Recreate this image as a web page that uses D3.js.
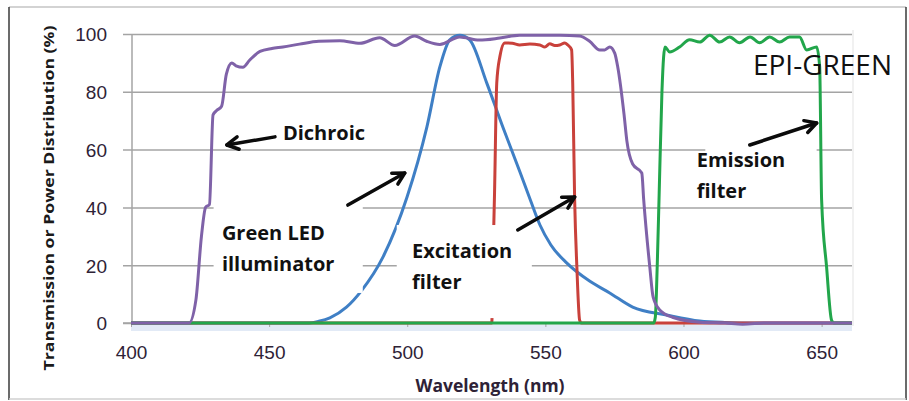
<!DOCTYPE html>
<html>
<head>
<meta charset="utf-8">
<script src="https://cdn.jsdelivr.net/npm/d3@7"></script>
<style>
  body { margin: 0; background: #fff; }
  svg { display: block; font-family: "Open Sans", sans-serif; }
</style>
</head>
<body>
<svg id="chart" width="909" height="401"></svg>
<script>
// tick labels
const wavelengthTicks = [400, 450, 500, 550, 600, 650];
const percentTicks = [0, 20, 40, 60, 80, 100];

// Green LED illuminator (blue curve)
const ledNm  = [400, 464.5, 468, 472, 478, 483.6, 491.2, 499.9, 507.1, 511.8, 515.4, 519, 522.6, 528.8, 534.6, 540.7, 544.4, 548, 552, 557.7, 566, 573.3, 581.6, 593.9, 605.9, 615, 626.5, 661];
const ledPct = [0, 0, 0.6, 1.8, 5.5, 11.4, 22.8, 43.5, 67.8, 88.6, 98, 99.6, 98, 83, 67.8, 52.5, 43, 34, 27, 20.8, 14.5, 10.4, 5.5, 2.8, 0.7, 0.2, 0, 0];

// Excitation filter (red curve)
const excNm  = [400, 530.6, 531, 531.6, 532.4, 533.5, 535.3, 538, 540.7, 544.4, 548, 549.8, 551.6, 553.4, 555.2, 557, 558.1, 559.5, 559.9, 560.6, 561.4, 562.4, 563, 661];
const excPct = [0, 0, 20, 45, 83, 92, 96.9, 96.8, 96.2, 96.5, 96.2, 95.5, 96.6, 96, 96.2, 96.9, 96.2, 94.5, 83, 42.6, 19.4, 1, 0, 0];

// Emission filter (green curve)
const emiNm  = [400, 589.2, 589.8, 590.5, 591.2, 592.2, 592.8, 593.3, 595, 598.6, 602.2, 605.9, 609.5, 613.1, 616.7, 620.3, 624.1, 627.6, 631.2, 634.8, 638.4, 642, 644.6, 648.2, 649.3, 650, 651.8, 653.6, 654.5, 661];
const emiPct = [0, 0, 2, 20, 45, 80, 92, 95.5, 93.8, 95.5, 98, 97.2, 99.6, 97.2, 99, 97, 99, 97, 99, 97.2, 99, 99, 94.5, 95.5, 88.6, 42.6, 19.4, 1, 0, 0];

// Dichroic (purple curve)
const dicNm  = [400, 421, 423.5, 425.5, 427, 428.4, 429.7, 431, 432.8, 434.5, 436.5, 438, 440.5, 443, 446.7, 451, 455, 461, 468, 475.6, 482.9, 490, 495.5, 502.7, 507, 511.8, 519, 526, 533.5, 540.7, 548, 555.2, 562.4, 566, 569.7, 571.5, 573.3, 575.1, 576.2, 578.5, 579.5, 581.6, 584.9, 585.6, 587.8, 589, 591.4, 596, 606, 615, 621.4, 630, 661];
const dicPct = [0, 0, 8, 30, 40, 41, 72, 73.5, 75, 86, 90, 89, 88.5, 91, 94, 95, 95.5, 96.5, 97.5, 97.7, 96.8, 98.7, 96, 99.3, 97.5, 96.4, 99, 97.9, 98.6, 99.6, 99.6, 99.6, 99.3, 97.5, 94.5, 94.5, 95.5, 93.4, 88.6, 72, 63, 55, 51.9, 42.6, 19.4, 9, 4.5, 2, 0.3, 0, -0.4, 0, 0];

const seriesNames  = ["led", "excitation", "emission", "dichroic"];
const seriesColors = ["#3f7fc5", "#c9413b", "#22a64b", "#7f62a8"];
const seriesNm  = [ledNm, excNm, emiNm, dicNm];
const seriesPct = [ledPct, excPct, emiPct, dicPct];

// annotation labels: lines, anchor (nm, %) of first baseline
const labelLines = [["Dichroic"], ["Green LED", "illuminator"], ["Excitation", "filter"], ["Emission", "filter"]];
const labelNm  = [455, 432.9, 501.7, 604.8];
const labelPct = [63.3, 28.7, 22.5, 54];
// white boxes behind labels [nm0, nm1, pct top, pct bottom]; null = none
const labelBoxes = [null, [429.9, 483.9, 40.8, 10.4], [496.2, 545.1, 33.9, 1.7], [607.9, 648.2, 63.3, 40.8]];
// arrows: tail (nm, %) -> head (nm, %)
const arrowTail = [[452.1, 64.4], [478.5, 40.8], [540, 32.2], [624, 61.6]];
const arrowHead = [[434.7, 61.6], [499.1, 51.9], [560.6, 43.6], [648.2, 69.2]];

const width = 909;
const height = 401;

const svg = d3.select("#chart");

const xScale = d3.scaleLinear().domain([400, 661]).range([131, 852]);
const yScale = d3.scaleLinear().domain([0, 100]).range([323, 34]);

// outer frame
svg.append("line").attr("x1", 9).attr("x2", 906).attr("y1", 7).attr("y2", 7)
  .attr("stroke", "#c4c4c4").attr("stroke-width", 1.5);
svg.append("line").attr("x1", 9).attr("x2", 9).attr("y1", 7).attr("y2", 400)
  .attr("stroke", "#3a3a3a").attr("stroke-width", 1.5);
svg.append("line").attr("x1", 906).attr("x2", 906).attr("y1", 7).attr("y2", 400)
  .attr("stroke", "#3a3a3a").attr("stroke-width", 1.5);
svg.append("line").attr("x1", 9).attr("x2", 906).attr("y1", 399).attr("y2", 399)
  .attr("stroke", "#d0d0d0").attr("stroke-width", 1.5);

// faint plot-area right edge
svg.append("line").attr("x1", 853).attr("x2", 853).attr("y1", 30).attr("y2", 326)
  .attr("stroke", "#ececec").attr("stroke-width", 1.5);

// shadow under the baseline
svg.append("line").attr("x1", 131).attr("x2", 852)
  .attr("y1", yScale(0) + 5).attr("y2", yScale(0) + 5)
  .attr("stroke", "#e2eaf6").attr("stroke-width", 6);

// gridlines
const yAxis = d3.axisLeft(yScale).tickValues(percentTicks)
  .tickSize(-(852 - 123)).tickPadding(0).tickFormat(d3.format("d"));
const yg = svg.append("g").attr("transform", "translate(123,0)").call(yAxis);
yg.select(".domain").remove();
yg.selectAll(".tick line").attr("stroke", "#a4a4a4").attr("stroke-width", 1.5);
yg.selectAll(".tick text").attr("x", -16).attr("dy", "0.36em")
  .attr("fill", "#2e2236").style("font-size", "19px");

// y axis line
svg.append("line").attr("x1", 132).attr("x2", 132).attr("y1", yScale(100)).attr("y2", yScale(0))
  .attr("stroke", "#a4a4a4").attr("stroke-width", 1.5);

// x axis
const xAxis = d3.axisBottom(xScale).tickValues(wavelengthTicks).tickSize(4).tickPadding(19);
const xg = svg.append("g").attr("transform", `translate(0,${yScale(0)})`).call(xAxis);
xg.select(".domain").attr("stroke", "#a4a4a4").attr("stroke-width", 1.5)
  .attr("d", `M123,0H852`);
xg.selectAll(".tick line").attr("stroke", "#a4a4a4");
xg.selectAll(".tick text").attr("fill", "#2e2236").style("font-size", "19px");

// curves
const line = d3.line()
  .x(d => xScale(d[0]))
  .y(d => yScale(d[1]))
  .curve(d3.curveMonotoneX);

seriesNames.forEach((name, i) => {
  const pts = seriesNm[i].map((nm, j) => [nm, seriesPct[i][j]]);
  svg.append("path")
    .attr("class", "series " + name)
    .attr("d", line(pts))
    .attr("fill", "none")
    .attr("stroke", seriesColors[i])
    .attr("stroke-width", 3)
    .attr("stroke-linejoin", "round");
});

// label boxes (pasted text boxes cover the grid)
labelBoxes.forEach(b => {
  if (!b) return;
  svg.append("rect")
    .attr("x", xScale(b[0])).attr("y", yScale(b[2]))
    .attr("width", xScale(b[1]) - xScale(b[0]))
    .attr("height", yScale(b[3]) - yScale(b[2]))
    .attr("fill", "#fff");
});

// labels
labelLines.forEach((lines, i) => {
  const t = svg.append("text")
    .attr("x", xScale(labelNm[i])).attr("y", yScale(labelPct[i]))
    .attr("fill", "#111").style("font-size", "20px").style("font-weight", "bold");
  lines.forEach((s, k) => {
    t.append("tspan").attr("x", xScale(labelNm[i])).attr("dy", k === 0 ? 0 : 31).text(s);
  });
});

// arrows
arrowTail.forEach((tail, i) => {
  const x1 = xScale(tail[0]), y1 = yScale(tail[1]);
  const x2 = xScale(arrowHead[i][0]), y2 = yScale(arrowHead[i][1]);
  const ang = Math.atan2(y2 - y1, x2 - x1);
  const len = 13, spread = 0.5;
  const g = svg.append("g").attr("stroke", "#0b0b0b").attr("stroke-width", 3.5)
    .attr("stroke-linecap", "round").attr("fill", "none");
  g.append("line").attr("x1", x1).attr("y1", y1).attr("x2", x2).attr("y2", y2);
  g.append("path").attr("d",
    `M${x2 - len * Math.cos(ang - spread)},${y2 - len * Math.sin(ang - spread)}` +
    `L${x2},${y2}` +
    `L${x2 - len * Math.cos(ang + spread)},${y2 - len * Math.sin(ang + spread)}`)
    .attr("stroke-linejoin", "round");
});

// title
svg.append("text")
  .attr("x", 892).attr("y", 75)
  .attr("text-anchor", "end")
  .attr("fill", "#111")
  .style("font-size", "28px")
  .text("EPI-GREEN");

// axis titles
svg.append("text")
  .attr("x", 490).attr("y", 392)
  .attr("text-anchor", "middle")
  .attr("fill", "#2e2236")
  .style("font-size", "17.5px").style("font-weight", "bold")
  .text("Wavelength (nm)");

svg.append("text")
  .attr("transform", "translate(54,198) rotate(-90)")
  .attr("text-anchor", "middle")
  .attr("fill", "#1a1a1a")
  .style("font-size", "15px").style("font-weight", "bold")
  .attr("textLength", 345).attr("lengthAdjust", "spacingAndGlyphs")
  .text("Transmission or Power Distribution (%)");
</script>
</body>
</html>
